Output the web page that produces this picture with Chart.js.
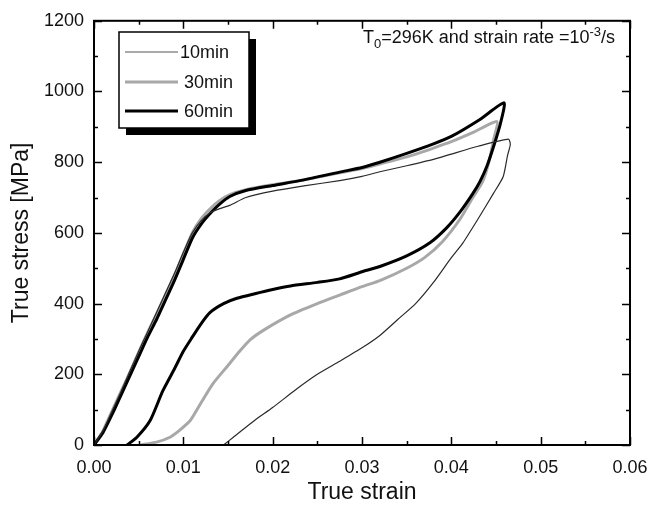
<!DOCTYPE html>
<html>
<head>
<meta charset="utf-8">
<script src="https://cdn.jsdelivr.net/npm/chart.js@4"></script>
<style>
html, body { margin: 0; padding: 0; background: #fff; }
</style>
</head>
<body>
<canvas id="c" width="660" height="509"></canvas>
<script>
// Series names and loop data (true strain, true stress in MPa), loading then unloading.
var seriesNames = ['10min', '30min', '60min'];

var strain10 = [0, 0.001, 0.002, 0.003, 0.004, 0.005, 0.006, 0.007, 0.008, 0.009, 0.010, 0.011, 0.012, 0.013, 0.014, 0.0152, 0.017, 0.020, 0.0235, 0.0275, 0.030, 0.032, 0.035, 0.038, 0.040, 0.043, 0.0464,
    0.0466, 0.0463, 0.0458, 0.0447, 0.043, 0.0413, 0.040, 0.038, 0.036, 0.034, 0.032, 0.030, 0.0275, 0.025, 0.0225, 0.020, 0.018, 0.0156, 0.0145];
var stress10 = [0, 40, 95, 150, 208, 265, 320, 375, 430, 485, 545, 600, 635, 657, 668, 678, 700, 718, 733, 748, 760, 773, 790, 808, 823, 845, 865,
    850, 820, 759, 711, 640, 572, 530, 460, 400, 355, 310, 275, 237, 200, 155, 106, 70, 22, 0];

var strain30 = [0, 0.001, 0.002, 0.003, 0.004, 0.005, 0.006, 0.007, 0.008, 0.009, 0.010, 0.011, 0.012, 0.013, 0.014, 0.0152, 0.017, 0.020, 0.0235, 0.0275, 0.030, 0.032, 0.035, 0.038, 0.040, 0.0425, 0.0451,
    0.0447, 0.0442, 0.0435, 0.0424, 0.041, 0.039, 0.037, 0.035, 0.032, 0.030, 0.0275, 0.025, 0.022, 0.019, 0.0175, 0.0163, 0.015, 0.0133, 0.012, 0.0108, 0.0095, 0.0085, 0.007, 0.0052];
var stress30 = [0, 40, 95, 150, 205, 262, 318, 370, 425, 480, 540, 600, 640, 668, 690, 708, 722, 736, 750, 770, 782, 795, 815, 840, 858, 885, 915,
    860, 800, 745, 700, 640, 575, 530, 500, 465, 448, 424, 400, 368, 325, 298, 265, 225, 173, 120, 70, 40, 22, 8, 0];

var strain60 = [0, 0.001, 0.002, 0.003, 0.004, 0.005, 0.006, 0.007, 0.008, 0.009, 0.010, 0.011, 0.012, 0.013, 0.014, 0.0152, 0.017, 0.020, 0.0235, 0.0275, 0.030, 0.032, 0.035, 0.038, 0.040, 0.0432, 0.0459,
    0.0455, 0.0448, 0.044, 0.0432, 0.0424, 0.041, 0.0395, 0.0376, 0.035, 0.032, 0.030, 0.0275, 0.025, 0.022, 0.020, 0.018, 0.016, 0.0145, 0.013, 0.0119, 0.011, 0.010, 0.009, 0.0077, 0.0063, 0.0048, 0.0037];
var stress60 = [0, 35, 85, 140, 195, 250, 305, 355, 410, 465, 525, 585, 625, 655, 680, 703, 720, 734, 750, 772, 785, 800, 825, 852, 873, 921, 968,
    910, 850, 790, 745, 711, 660, 615, 572, 535, 505, 490, 470, 460, 450, 440, 428, 415, 400, 375, 340, 305, 265, 215, 153, 70, 22, 0];

var xTicks = [0, 0.01, 0.02, 0.03, 0.04, 0.05, 0.06];
var yTicks = [0, 200, 400, 600, 800, 1000, 1200];

var FONT = "'Liberation Sans', Arial, Helvetica, sans-serif";

function pts(xs, ys) {
    return xs.map(function(v, i) { return {x: v, y: ys[i]}; });
}

// Inward ticks on all four sides, the frame, legend and the note.
var framePlugin = {
    id: 'frame',
    afterDatasetsDraw: function(chart) {
        var ctx = chart.ctx, a = chart.chartArea, x = chart.scales.x, y = chart.scales.y;
        ctx.save();
        ctx.strokeStyle = '#000';
        ctx.lineWidth = 1.5;
        ctx.beginPath();
        var xStep = (xTicks[1] - xTicks[0]) / 2;
        for (var i = 0; i <= (xTicks.length - 1) * 2; i++) {
            var px = Math.round(x.getPixelForValue(i * xStep)) + 0.5;
            var len = i % 2 === 0 ? 8 : 4;
            ctx.moveTo(px, a.bottom); ctx.lineTo(px, a.bottom - len);
            ctx.moveTo(px, a.top); ctx.lineTo(px, a.top + len);
        }
        var yStep = (yTicks[1] - yTicks[0]) / 2;
        for (var j = 0; j <= (yTicks.length - 1) * 2; j++) {
            var py = Math.round(y.getPixelForValue(j * yStep)) + 0.5;
            var ylen = j % 2 === 0 ? 8 : 4;
            ctx.moveTo(a.left, py); ctx.lineTo(a.left + ylen, py);
            ctx.moveTo(a.right, py); ctx.lineTo(a.right - ylen, py);
        }
        ctx.stroke();
        ctx.lineWidth = 2;
        ctx.strokeRect(a.left, a.top, a.right - a.left, a.bottom - a.top);

        // Legend box with drop shadow
        var lx = 119, ly = 32, lw = 130, lh = 96;
        ctx.fillStyle = '#000';
        ctx.fillRect(lx + 7, ly + 7, lw, lh);
        ctx.fillStyle = '#fff';
        ctx.fillRect(lx, ly, lw, lh);
        ctx.lineWidth = 1.5;
        ctx.strokeRect(lx, ly, lw, lh);
        ctx.font = '18px ' + FONT;
        ctx.textBaseline = 'middle';
        ctx.textAlign = 'left';
        var rows = [52, 82, 111];
        seriesNames.forEach(function(name, k) {
            var ds = chart.data.datasets[k];
            ctx.strokeStyle = k === 0 ? '#555' : ds.borderColor;
            ctx.lineWidth = ds.borderWidth;
            ctx.beginPath();
            ctx.moveTo(125, rows[k]); ctx.lineTo(178, rows[k]);
            ctx.stroke();
            ctx.fillStyle = '#111';
            ctx.fillText(name, k === 0 ? 180 : 184, rows[k] + 1);
        });

        // Annotation: T0=296K and strain rate =10^-3/s
        var parts = [
            {t: 'T', s: 18, dy: 0},
            {t: '0', s: 13, dy: 5},
            {t: '=296K and strain rate =10', s: 18, dy: 0},
            {t: '-3', s: 13, dy: -7},
            {t: '/s', s: 18, dy: 0}
        ];
        var total = 0;
        parts.forEach(function(p) { ctx.font = p.s + 'px ' + FONT; total += ctx.measureText(p.t).width; });
        var cx = 615 - total, base = 43;
        ctx.textBaseline = 'alphabetic';
        ctx.fillStyle = '#111';
        parts.forEach(function(p) {
            ctx.font = p.s + 'px ' + FONT;
            ctx.fillText(p.t, cx, base + p.dy);
            cx += ctx.measureText(p.t).width;
        });
        ctx.restore();
    }
};

var ctx = document.getElementById('c').getContext('2d');
new Chart(ctx, {
    type: 'scatter',
    data: {
        datasets: [
            {label: seriesNames[0], data: pts(strain10, stress10), borderColor: '#2a2a2a', borderWidth: 1.2, order: 0},
            {label: seriesNames[1], data: pts(strain30, stress30), borderColor: '#a8a8a8', borderWidth: 3, order: 2},
            {label: seriesNames[2], data: pts(strain60, stress60), borderColor: '#000000', borderWidth: 3, order: 1}
        ].map(function(d) {
            d.showLine = true;
            d.pointRadius = 0;
            d.tension = 0.2;
            d.fill = false;
            return d;
        })
    },
    options: {
        responsive: false,
        animation: false,
        layout: {padding: {top: 15, right: 30, left: 0, bottom: 0}},
        plugins: {legend: {display: false}, tooltip: {enabled: false}},
        scales: {
            x: {
                type: 'linear',
                min: xTicks[0],
                max: xTicks[xTicks.length - 1],
                afterBuildTicks: function(s) { s.ticks = xTicks.map(function(v) { return {value: v}; }); },
                afterFit: function(s) { s.height = 64; },
                grid: {display: false, drawTicks: false},
                border: {display: false},
                ticks: {
                    padding: 12,
                    color: '#111',
                    font: {family: FONT, size: 18},
                    callback: function(v) { return v.toFixed(2); }
                },
                title: {display: true, text: 'True strain', color: '#111', font: {family: FONT, size: 23}, padding: {top: 0, bottom: 3}}
            },
            y: {
                type: 'linear',
                min: yTicks[0],
                max: yTicks[yTicks.length - 1],
                afterBuildTicks: function(s) { s.ticks = yTicks.map(function(v) { return {value: v}; }); },
                afterFit: function(s) { s.width = 94; },
                grid: {display: false, drawTicks: false},
                border: {display: false},
                ticks: {
                    padding: 10,
                    color: '#111',
                    font: {family: FONT, size: 18},
                    callback: function(v) { return String(v); }
                },
                title: {display: true, text: 'True stress [MPa]', color: '#111', font: {family: FONT, size: 23}, padding: {top: 8, bottom: 0}}
            }
        }
    },
    plugins: [framePlugin]
});
</script>
</body>
</html>
